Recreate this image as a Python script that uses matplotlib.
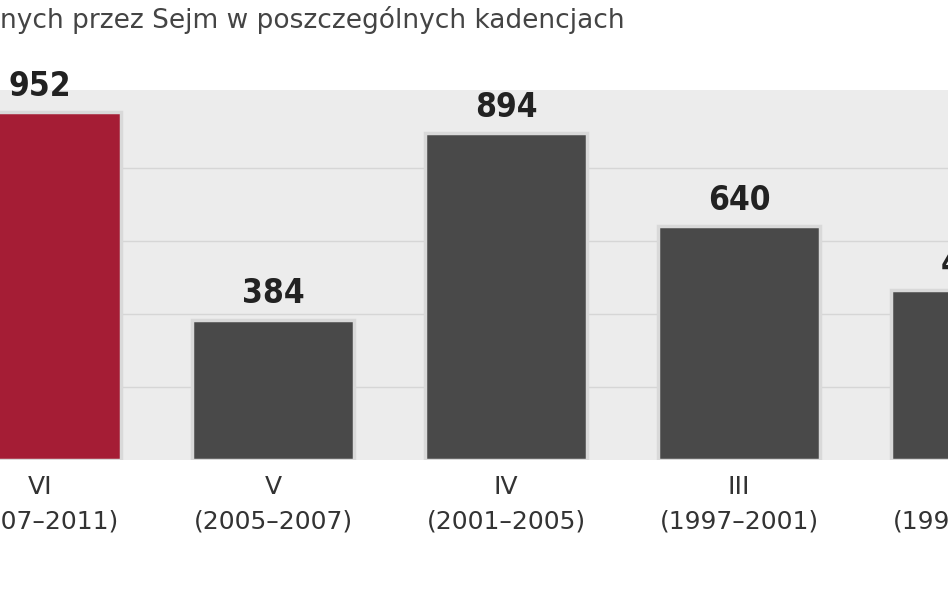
import matplotlib
matplotlib.use("Agg")
import matplotlib.pyplot as plt

kadencje = ["VI", "V", "IV", "III", "II"]
lata = ["(2007–2011)", "(2005–2007)", "(2001–2005)", "(1997–2001)", "(1993–1997)"]
wartosci = [952, 384, 894, 640, 465]
kolory = ["#a51d35", "#494949", "#494949", "#494949", "#494949"]

W, H = 948, 593
fig = plt.figure(figsize=(W/100, H/100), dpi=100)
fig.patch.set_facecolor("white")
ax = fig.add_axes([0, 1-460/H, 1, 370/H])
ax.set_facecolor("#ececec")
ax.set_xlim(-40/233, (W-40)/233)
ax.set_ylim(0, 1012)
for g in [200, 400, 600, 800]:
    ax.axhline(g, color="#d6d6d6", lw=1, zorder=1)
x = list(range(len(wartosci)))
ax.bar(x, wartosci, width=0.695, color=kolory, edgecolor="#d9d9d9", linewidth=2.5, zorder=2)
for xi, v in zip(x, wartosci):
    ax.text(xi, v + 25, str(v), ha="center", va="bottom", fontsize=24, fontweight="bold",
            family="DejaVu Sans", fontstretch="condensed", color="#222222", clip_on=False)
for xi, k, l in zip(x, kadencje, lata):
    ax.text(xi, -40, k, ha="center", va="top", fontsize=18, color="#333333", family="DejaVu Sans")
    ax.text(xi, -135, l, ha="center", va="top", fontsize=18, color="#333333", family="DejaVu Sans")
for s in ax.spines.values():
    s.set_visible(False)
ax.set_xticks([]); ax.set_yticks([])
fig.text(0, 1-20/H, "nych przez Sejm w poszczególnych kadencjach", ha="left", va="center",
         fontsize=19, color="#444444", family="DejaVu Sans")
fig.savefig("out.png", dpi=100)
